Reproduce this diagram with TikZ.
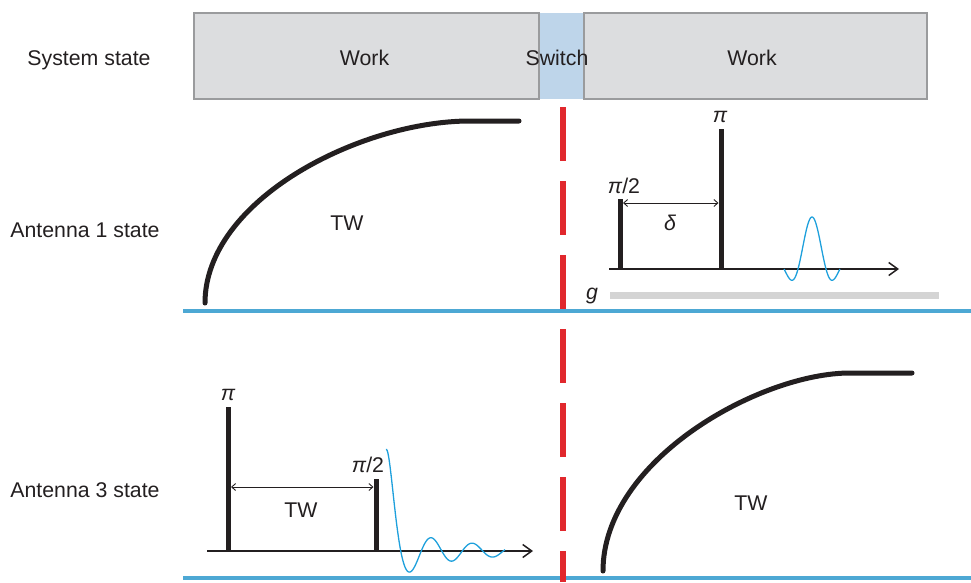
\documentclass[tikz,border=0pt]{standalone}
\usepackage{fontspec}
\setmainfont{Liberation Sans}
\usetikzlibrary{arrows.meta}
\definecolor{boxgray}{HTML}{DCDDDF}
\definecolor{boxedge}{HTML}{9A9B9D}
\definecolor{switchblue}{HTML}{BED5EA}
\definecolor{sepblue}{HTML}{4DA8D4}
\definecolor{dashred}{HTML}{E1282D}
\definecolor{sigblue}{HTML}{1EA0DC}
\definecolor{ink}{HTML}{231F20}
\definecolor{gbar}{HTML}{D4D4D4}
\begin{document}
\begin{tikzpicture}[x=1pt,y=-1pt,
  lbl/.style={font=\fontsize{21.3}{25}\selectfont, anchor=base, inner sep=0pt, text=ink},
  workbox/.style={draw=boxedge, line width=2pt, fill=boxgray, minimum height=86pt, inner sep=0pt},
  switchbox/.style={fill=switchblue, minimum height=86pt, minimum width=45pt, inner sep=0pt},
  sep/.style={draw=sepblue, line width=4pt},
  redline/.style={draw=dashred, line width=6.5pt, dash pattern=on 54pt off 20pt},
  twcurve/.style={draw=ink, line width=5pt, line cap=round},
  pulse/.style={draw=ink, line width=5pt},
  axis/.style={draw=ink, line width=1.5pt, -{Straight Barb[length=9pt,width=13pt,line width=1.5pt]}},
  span/.style={draw=ink, line width=0.9pt, {Straight Barb[length=4pt,width=7pt]}-{Straight Barb[length=4pt,width=7pt]}},
  signal/.style={draw=sigblue, line width=1.3pt},
  gradbar/.style={draw=gbar, line width=7pt}
]
\useasboundingbox (0,0) rectangle (971,582);

% ---- top row ----
\node[switchbox] (sw) at (561,56) {};
\node[workbox, minimum width=345pt] (w1) at (366.5,56) {};
\node[workbox, minimum width=343pt] (w2) at (755,56) {};
\node[lbl] (sys) at (89,65) {System state};
\node[lbl] (w1t) at (364.5,65) {Work};
\node[lbl] (w2t) at (752,65) {Work};
\node[lbl] (swt) at (557,65) {Switch};

% ---- row labels ----
\node[lbl] (a1) at (85,237) {Antenna 1 state};
\node[lbl] (a3) at (85,497) {Antenna 3 state};

% ---- separators ----
\coordinate (s1a) at (183,311); \coordinate (s1b) at (971,311);
\coordinate (s2a) at (183,578); \coordinate (s2b) at (971,578);
\draw[sep] (s1a) -- (s1b);
\draw[sep] (s2a) -- (s2b);

% ---- antenna 1, left: TW recovery curve ----
\coordinate (c1s) at (205,303); \coordinate (c1m) at (470,121); \coordinate (c1e) at (519,121);
\draw[twcurve] (c1s) .. controls (205,200) and (360,121) .. (c1m) -- (c1e);
\node[lbl] (tw1) at (347,230) {TW};

% ---- antenna 1, right: spin echo ----
\coordinate (ax1s) at (609,269); \coordinate (ax1e) at (899,269);
\draw[axis] (ax1s) -- (ax1e);
\coordinate (p1b) at (620,269); \coordinate (p1t) at (620,199);
\coordinate (p2b) at (721,269); \coordinate (p2t) at (721,129);
\draw[pulse] (p1b) -- (p1t);
\draw[pulse] (p2b) -- (p2t);
\node[lbl] (l1) at (624,193) {{\itshape π}/2};
\node[lbl] (l2) at (720,122) {\itshape π};
\coordinate (d1) at (623,203); \coordinate (d2) at (718.5,203);
\draw[span] (d1) -- (d2);
\node[lbl] (del) at (670,230) {\itshape δ};
\draw[signal] plot[domain=-28:28, samples=112, smooth] ({812+\x},{269-52*sin(\x*12.857)/(\x*0.224399)});
\node[lbl] (g) at (592,299) {\itshape g};
\coordinate (gb1) at (610,295.5); \coordinate (gb2) at (939,295.5);
\draw[gradbar] (gb1) -- (gb2);

% ---- antenna 3, left: inversion recovery ----
\coordinate (ax3s) at (207,551); \coordinate (ax3e) at (533,551);
\draw[axis] (ax3s) -- (ax3e);
\coordinate (q1b) at (228,551); \coordinate (q1t) at (228,407);
\coordinate (q2b) at (376,551); \coordinate (q2t) at (376,479);
\draw[pulse] (q1b) -- (q1t);
\draw[pulse] (q2b) -- (q2t);
\node[lbl] (m1) at (228,400) {\itshape π};
\node[lbl] (m2) at (368,472) {{\itshape π}/2};
\coordinate (e1) at (231,487); \coordinate (e2) at (373.5,487);
\draw[span] (e1) -- (e2);
\node[lbl] (tw3) at (301,517) {TW};
\draw[signal] plot[domain=2:121, samples=200, smooth] ({384+\x},{551-(142*exp(max(-\x/7.4,-8))+23.6*exp(-\x/79.6))*cos((\x-6.5)*8.78049)});

% ---- antenna 3, right: TW recovery curve ----
\coordinate (c3s) at (603,571); \coordinate (c3m) at (850,373); \coordinate (c3e) at (912,373);
\draw[twcurve] (c3s) .. controls (603,460) and (760,373) .. (c3m) -- (c3e);
\node[lbl] (tw4) at (751,510) {TW};

% ---- switch marker ----
\coordinate (r1) at (563,107); \coordinate (r2) at (563,582);
\draw[redline] (r1) -- (r2);
\end{tikzpicture}
\end{document}
